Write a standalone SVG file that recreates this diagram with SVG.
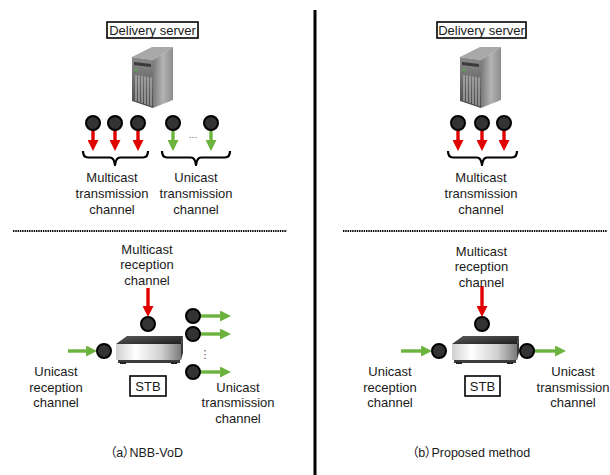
<svg xmlns="http://www.w3.org/2000/svg" width="610" height="475" viewBox="0 0 610 475">
  <style>
    .lbl { font-family: "Liberation Sans", Arial, sans-serif; font-size: 13px; fill: #1a1a1a; text-anchor: middle; }
    .cap { font-family: "Liberation Sans", "Noto Sans CJK JP", sans-serif; font-size: 12.5px; fill: #1a1a1a; font-feature-settings: "palt"; }
    .box { fill: #fff; stroke: #000; stroke-width: 1.6; }
    .port { fill: #333; stroke: #000; stroke-width: 2; }
    .red { stroke: #e00000; stroke-width: 3.4; fill: none; marker-end: url(#ah-red); }
    .grn { stroke: #6cb33e; stroke-width: 3.4; fill: none; marker-end: url(#ah-grn); }
    .brace { fill: none; stroke: #000; stroke-width: 2.2; stroke-linejoin: round; }
    .dots { stroke: #000; stroke-width: 2; stroke-dasharray: 1.4 0.9; }
    .ell { font-family: "DejaVu Sans", sans-serif; fill: #555; text-anchor: middle; }
  </style>
  <defs>
    <marker id="ah-red" viewBox="0 0 10 10" refX="4.5" refY="5" markerWidth="11" markerHeight="11" markerUnits="userSpaceOnUse" orient="auto">
      <path d="M0,0 L10,5 L0,10 z" fill="#e00000"/>
    </marker>
    <marker id="ah-grn" viewBox="0 0 10 10" refX="4.5" refY="5" markerWidth="11" markerHeight="11" markerUnits="userSpaceOnUse" orient="auto">
      <path d="M0,0 L10,5 L0,10 z" fill="#6cb33e"/>
    </marker>
    <linearGradient id="srvFront" x1="0" y1="0" x2="0" y2="1">
      <stop offset="0" stop-color="#8a8a8a"/>
      <stop offset="1" stop-color="#4a4a4a"/>
    </linearGradient>
    <linearGradient id="srvSide" x1="0" y1="0" x2="1" y2="0">
      <stop offset="0" stop-color="#7a7a7a"/>
      <stop offset="0.5" stop-color="#b4b4b4"/>
      <stop offset="1" stop-color="#8c8c8c"/>
    </linearGradient>
    <linearGradient id="stbFront" x1="0" y1="0" x2="1" y2="0">
      <stop offset="0" stop-color="#cfcfcf"/>
      <stop offset="0.3" stop-color="#ffffff"/>
      <stop offset="0.7" stop-color="#d0d0d0"/>
      <stop offset="1" stop-color="#7a7a7a"/>
    </linearGradient>
    <linearGradient id="stbTop" x1="0" y1="0" x2="1" y2="1">
      <stop offset="0" stop-color="#5a5a5a"/>
      <stop offset="1" stop-color="#1e1e1e"/>
    </linearGradient>
    <!-- tower server, drawn with its top-left at (0,0) -->
    <g id="server">
      <polygon points="0,12 20,2 41,2 21,15" fill="#a8a8a8"/>
      <polygon points="0,12 21,15 21,63 0,56" fill="url(#srvFront)"/>
      <polygon points="21,15 41,2 41,55 21,63" fill="url(#srvSide)"/>
      <polygon points="2,17 19,19 19,22 2,20" fill="#3a3a3a"/>
      <circle cx="4" cy="25" r="1" fill="#3c3"/>
      <g stroke="#c8c8c8" stroke-width="1">
        <line x1="4" y1="30" x2="4" y2="56"/>
        <line x1="7" y1="30.5" x2="7" y2="57"/>
        <line x1="10" y1="31" x2="10" y2="58"/>
        <line x1="13" y1="31.5" x2="13" y2="59"/>
        <line x1="16" y1="32" x2="16" y2="60"/>
        <line x1="19" y1="32.5" x2="19" y2="61"/>
      </g>
    </g>
    <!-- set-top box, drawn with its top-left at (0,0) -->
    <g id="stb">
      <polygon points="0,8 11,0 67,0 65,8" fill="url(#stbTop)"/>
      <rect x="0" y="8" width="65" height="16" fill="url(#stbFront)"/>
      <polygon points="65,8 67,0 67,17 65,24" fill="#3a3a3a"/>
      <rect x="2" y="24" width="62" height="3" fill="#3c3c3c"/>
      <rect x="4" y="26" width="6" height="2" fill="#222"/>
      <rect x="55" y="26" width="6" height="2" fill="#222"/>
    </g>
  </defs>

  <!-- panel separators -->
  <g id="separators">
    <line x1="315" y1="10" x2="315" y2="475" stroke="#000" stroke-width="3"/>
    <line class="dots" x1="13" y1="231" x2="287" y2="231"/>
    <line class="dots" x1="343" y1="231" x2="607" y2="231"/>
  </g>

  <!-- (a) NBB-VoD -->
  <g id="server-a">
    <rect class="box" x="107" y="22" width="91" height="16"/>
    <text class="lbl" x="152.5" y="35">Delivery server</text>
    <use href="#server" x="132" y="45"/>
  </g>
  <g id="stb-a">
    <use href="#stb" x="116" y="336"/>
    <rect class="box" x="130" y="376" width="36" height="20"/>
    <text class="lbl" x="148" y="391">STB</text>
  </g>

  <!-- (b) Proposed method -->
  <g id="server-b">
    <rect class="box" x="437" y="22" width="89" height="16"/>
    <text class="lbl" x="481.5" y="35">Delivery server</text>
    <use href="#server" x="460" y="45"/>
  </g>
  <g id="stb-b">
    <use href="#stb" x="452" y="336"/>
    <rect class="box" x="465" y="376" width="35" height="20"/>
    <text class="lbl" x="482.5" y="391">STB</text>
  </g>

  <!-- channel arrows -->
  <g id="connectors">
    <line class="red" x1="93" y1="130" x2="93" y2="145"/>
    <line class="red" x1="115" y1="130" x2="115" y2="145"/>
    <line class="red" x1="138" y1="130" x2="138" y2="145"/>
    <line class="grn" x1="173" y1="130" x2="173" y2="145"/>
    <line class="grn" x1="211" y1="130" x2="211" y2="145"/>
    <line class="red" x1="148" y1="288" x2="148" y2="311"/>
    <line class="grn" x1="68" y1="351" x2="91" y2="351"/>
    <line class="grn" x1="200" y1="316" x2="225" y2="316"/>
    <line class="grn" x1="200" y1="334" x2="225" y2="334"/>
    <line class="grn" x1="200" y1="372" x2="225" y2="372"/>

    <line class="red" x1="458" y1="130" x2="458" y2="145"/>
    <line class="red" x1="482" y1="130" x2="482" y2="145"/>
    <line class="red" x1="504" y1="130" x2="504" y2="145"/>
    <line class="red" x1="482" y1="286" x2="482" y2="311"/>
    <line class="grn" x1="401" y1="351" x2="426" y2="351"/>
    <line class="grn" x1="534" y1="351" x2="560" y2="351"/>
  </g>

  <!-- channel ports -->
  <g id="ports">
    <circle class="port" cx="93" cy="123" r="7"/>
    <circle class="port" cx="115" cy="123" r="7"/>
    <circle class="port" cx="138" cy="123" r="7"/>
    <circle class="port" cx="173" cy="123" r="7"/>
    <circle class="port" cx="211" cy="123" r="7"/>
    <circle class="port" cx="148" cy="324" r="7"/>
    <circle class="port" cx="104" cy="351" r="7"/>
    <circle class="port" cx="193" cy="316" r="7"/>
    <circle class="port" cx="193" cy="334" r="7"/>
    <circle class="port" cx="193" cy="372" r="7"/>

    <circle class="port" cx="458" cy="123" r="7"/>
    <circle class="port" cx="482" cy="123" r="7"/>
    <circle class="port" cx="504" cy="123" r="7"/>
    <circle class="port" cx="482" cy="324" r="7"/>
    <circle class="port" cx="439" cy="351" r="7"/>
    <circle class="port" cx="527" cy="351" r="7"/>
    <text class="ell" x="193" y="138" font-size="9">...</text>
    <text class="ell" x="205" y="358" font-size="11">⋮</text>
  </g>

  <!-- grouping braces -->
  <g id="braces">
    <path class="brace" d="M83,151 Q83,157.5 88,157.5 L110,157.5 Q114,157.5 115,165 Q116,157.5 120,157.5 L143,157.5 Q148,157.5 148,151"/>
    <path class="brace" d="M162,151 Q162,157.5 167,157.5 L191,157.5 Q195,157.5 196,165 Q197,157.5 201,157.5 L225,157.5 Q230,157.5 230,151"/>
    <path class="brace" d="M448,151 Q448,157.5 453,157.5 L477,157.5 Q481,157.5 482,165 Q483,157.5 487,157.5 L512,157.5 Q517,157.5 517,151"/>
  </g>

  <!-- channel labels -->
  <g id="labels">
    <text class="lbl" x="112" y="181.5">Multicast</text>
    <text class="lbl" x="112" y="197.5">transmission</text>
    <text class="lbl" x="112" y="213.5">channel</text>
    <text class="lbl" x="196" y="181.5">Unicast</text>
    <text class="lbl" x="196" y="197.5">transmission</text>
    <text class="lbl" x="196" y="213.5">channel</text>

    <text class="lbl" x="147" y="253.5">Multicast</text>
    <text class="lbl" x="147" y="269">reception</text>
    <text class="lbl" x="147" y="284.5">channel</text>
    <text class="lbl" x="56" y="375.5">Unicast</text>
    <text class="lbl" x="56" y="391.5">reception</text>
    <text class="lbl" x="56" y="407">channel</text>
    <text class="lbl" x="238" y="391.5">Unicast</text>
    <text class="lbl" x="238" y="407">transmission</text>
    <text class="lbl" x="238" y="422.5">channel</text>

    <text class="lbl" x="481" y="181.5">Multicast</text>
    <text class="lbl" x="481" y="197.5">transmission</text>
    <text class="lbl" x="481" y="213.5">channel</text>

    <text class="lbl" x="481.5" y="255.5">Multicast</text>
    <text class="lbl" x="481.5" y="271">reception</text>
    <text class="lbl" x="481.5" y="286.5">channel</text>
    <text class="lbl" x="390" y="375.5">Unicast</text>
    <text class="lbl" x="390" y="391.5">reception</text>
    <text class="lbl" x="390" y="407">channel</text>
    <text class="lbl" x="573" y="375.5">Unicast</text>
    <text class="lbl" x="573" y="391.5">transmission</text>
    <text class="lbl" x="573" y="407">channel</text>
  </g>

  <!-- panel captions -->
  <g id="captions">
    <text class="cap" x="110" y="457">（a）NBB-VoD</text>
    <text class="cap" x="412" y="457">（b）Proposed method</text>
  </g>
</svg>
